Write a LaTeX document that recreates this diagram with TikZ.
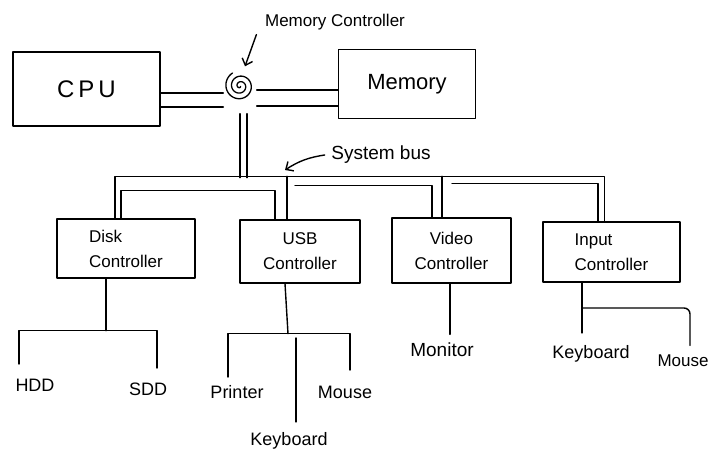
\documentclass[tikz,border=0pt]{standalone}
\usepackage{fontspec}
\setmainfont{Liberation Sans}
\usetikzlibrary{arrows.meta,calc}
\begin{document}
\begin{tikzpicture}[x=1pt,y=-1pt,line width=1.4pt,line cap=round,line join=round,
  box/.style={draw,inner sep=0pt},
  ctrl/.style={box,font=\fontsize{17}{25}\selectfont},
  dev/.style={inner sep=0pt,font=\fontsize{18}{20}\selectfont},
  lbl/.style={inner sep=0pt,font=\fontsize{17}{20}\selectfont},
  pointer/.style={-{Straight Barb[length=6pt,width=11pt]}}]
\useasboundingbox (0,0) rectangle (708,462);

% top row
\node[box,minimum width=147pt,minimum height=74pt,font=\fontsize{24}{28}\selectfont] (cpu) at (86.5,89) {C\hspace{4pt}P\hspace{4pt}U};
\node[box,minimum width=137pt,minimum height=69pt,font=\fontsize{22}{26}\selectfont] (mem) at (407,84) {Memory};
\node[circle,minimum size=32pt,inner sep=0pt] (mc) at (240,86) {};
\draw[line width=1.3pt] plot[domain=40:960,samples=160,smooth,variable=\t]
  ({240+15*\t/960*cos(\t)},{86+15*\t/960*sin(\t)});

% labels with pointers
\node[lbl] (mclab) at (335,22) {Memory Controller};
\draw[pointer] ([shift={(-8pt,-4pt)}]mclab.south west) -- ([shift={(5pt,3pt)}]mc.north);
\node[lbl,font=\fontsize{19}{22}\selectfont] (sysbus) at (381,155) {System bus};
\coordinate (busarrow) at (285,170);
\draw[pointer] ([xshift=-6pt]sysbus.west) to[bend right=12] (busarrow);

% CPU - controller - memory buses
\draw ([yshift=-4pt]cpu.east) -- ([yshift=-7pt]mc.west);
\draw ([yshift=-18pt]cpu.east) -- ([yshift=-21pt]mc.west);
\draw ([yshift=-4pt]mc.east) -- ([yshift=-6pt]mem.west);
\draw ([yshift=-20pt]mc.east) -- ([yshift=-22pt]mem.west);

% controllers
\node[ctrl,minimum width=138pt,minimum height=59pt,align=left] (disk) at (126,248.5) {Disk\\Controller};
\node[ctrl,minimum width=120pt,minimum height=63pt,align=center] (usb) at (300,251.5) {USB\\Controller};
\node[ctrl,minimum width=119pt,minimum height=65pt,align=center] (video) at (451.5,250.5) {Video\\Controller};
\node[ctrl,minimum width=137pt,minimum height=60pt,align=left] (input) at (611.5,252) {Input\\Controller};

% system bus (outer line)
\draw ([xshift=-11pt]disk.north) -- ++(0,-42) -| ([xshift=-7pt]input.north);
\draw ([xshift=-13pt]usb.north) -- ++(0,-43);
\draw ([xshift=-9.5pt]video.north) -- ++(0,-41);
\draw ([yshift=-11pt]mc.south) -- ++(0,64);
\draw ([shift={(7pt,-11pt)}]mc.south) -- ++(0,64);
% system bus (inner line)
\draw ([xshift=-5pt]disk.north) -- ++(0,-28) -| ([xshift=-25pt]usb.north);
\draw ([xshift=-5pt]usb.north) ++(0,-34) -| ([xshift=-19.5pt]video.north);
\draw ([xshift=0.5pt]video.north) ++(0,-34) -| ([xshift=-13.5pt]input.north);

% devices
\node[dev] (hdd) at (35,385) {HDD};
\node[dev] (sdd) at (148,389) {SDD};
\node[dev] (printer) at (237,392) {Printer};
\node[dev] (mouse1) at (345,392) {Mouse};
\node[dev] (kbd1) at (289,441) {Keyboard};
\node[dev,font=\fontsize{19}{22}\selectfont] (monitor) at (442,350) {Monitor};
\node[dev] (kbd2) at (591,354) {Keyboard};
\node[dev,font=\fontsize{17}{20}\selectfont] (mouse2) at (683,361) {Mouse};

% disk branch
\draw ([xshift=-20pt]disk.south) -- ++(0,52) coordinate (dj);
\coordinate (hddT) at (19,364);
\coordinate (sddT) at (157,368);
\draw (hddT) |- (dj) -| (sddT);

% usb branch
\draw ([xshift=-15pt]usb.south) -- ++(3,50) coordinate (uj);
\coordinate (prnT) at (228,377);
\coordinate (msT) at (350,370);
\draw (prnT) |- (uj) -| (msT);
\coordinate (kbT) at (296,338);
\draw (kbT) -- ([xshift=7pt,yshift=10pt]kbd1.north);

% video branch
\draw ([xshift=-1.5pt]video.south) -- ([xshift=8pt,yshift=8pt]monitor.north);

% input branch
\draw ([xshift=-29.5pt]input.south) -- ([shift={(-9pt,12pt)}]kbd2.north);
\coordinate (ij) at (582,308);
\draw[rounded corners=6pt] (ij) -| ([shift={(7pt,9pt)}]mouse2.north);
\end{tikzpicture}
\end{document}
